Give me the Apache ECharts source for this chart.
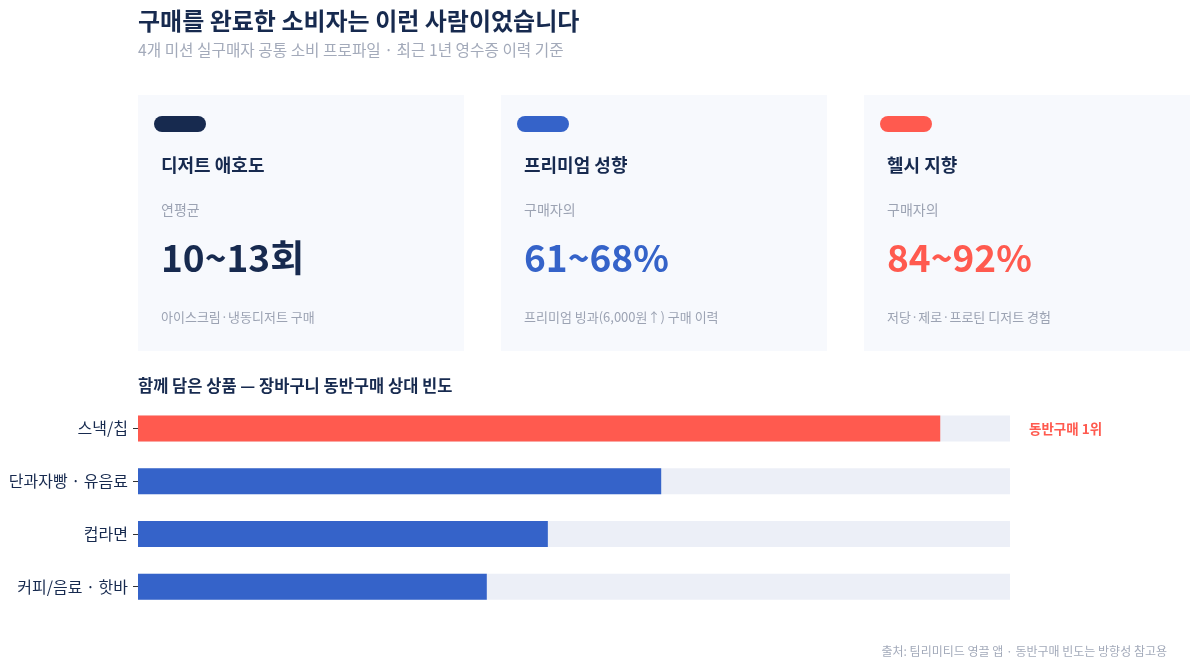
<!DOCTYPE html>
<html>
<head>
<meta charset="utf-8">
<script src="https://cdn.jsdelivr.net/npm/echarts@6/dist/echarts.min.js"></script>
<style>
  html, body { margin: 0; padding: 0; background: #ffffff; }
  #main { width: 1200px; height: 668px; }
</style>
</head>
<body>
<div id="main"></div>
<script>
var FONT = '"Noto Sans CJK KR", "Noto Sans", sans-serif';

// headline texts
var titleText = '구매를 완료한 소비자는 이런 사람이었습니다';
var subtitleText = '4개 미션 실구매자 공통 소비 프로파일 · 최근 1년 영수증 이력 기준';
var sectionText = '함께 담은 상품 — 장바구니 동반구매 상대 빈도';
var sourceText = '출처: 팀리미티드 영끌 앱 · 동반구매 빈도는 방향성 참고용';

// profile cards
var cardTitles = ['디저트 애호도', '프리미엄 성향', '헬시 지향'];
var cardLabels = ['연평균', '구매자의', '구매자의'];
var cardValues = ['10~13회', '61~68%', '84~92%'];
var cardNotes = ['아이스크림·냉동디저트 구매', '프리미엄 빙과(6,000원↑) 구매 이력', '저당·제로·프로틴 디저트 경험'];

// basket co-purchase bars
var categories = ['스낵/칩', '단과자빵 · 유음료', '컵라면', '커피/음료 · 핫바'];
var relFreq = [92, 60, 47, 40];
var topNote = '동반구매 1위';

var NAVY = '#172a4f';
var BLUE = '#3563c9';
var RED = '#ff5a4f';
var GREY = '#9ca3b3';
var cardColors = [NAVY, BLUE, RED];

var chart = echarts.init(document.getElementById('main'));

var graphics = [
    { type: 'text', x: 138, y: 21, style: { text: titleText, fill: NAVY, font: 'bold 24px ' + FONT, verticalAlign: 'middle' } },
    { type: 'text', x: 138, y: 50, style: { text: subtitleText, fill: '#a3aaba', font: '15.7px ' + FONT, verticalAlign: 'middle' } },
    { type: 'text', x: 138, y: 386, style: { text: sectionText, fill: NAVY, font: 'bold 16.5px ' + FONT, verticalAlign: 'middle' } },
    { type: 'text', x: 1167, y: 651, style: { text: sourceText, fill: '#a3aaba', font: '12px ' + FONT, align: 'right', verticalAlign: 'middle' } }
];

var cardX = [138, 501, 864];
cardTitles.forEach(function (t, i) {
    var x = cardX[i];
    graphics.push({ type: 'rect', shape: { x: x, y: 95, width: 326, height: 256 }, style: { fill: '#f7f9fd' } });
    graphics.push({ type: 'rect', shape: { x: x + 16, y: 116, width: 52, height: 16, r: 8 }, style: { fill: cardColors[i] } });
    graphics.push({ type: 'text', x: x + 23, y: 165, style: { text: t, fill: NAVY, font: 'bold 18px ' + FONT, verticalAlign: 'middle' } });
    graphics.push({ type: 'text', x: x + 23, y: 210, style: { text: cardLabels[i], fill: GREY, font: '14px ' + FONT, verticalAlign: 'middle' } });
    graphics.push({ type: 'text', x: x + 23, y: 258, style: { text: cardValues[i], fill: cardColors[i], font: 'bold 37px ' + FONT, verticalAlign: 'middle' } });
    graphics.push({ type: 'text', x: x + 23, y: 317, style: { text: cardNotes[i], fill: GREY, font: '13px ' + FONT, verticalAlign: 'middle' } });
});

var option = {
    backgroundColor: '#ffffff',
    animation: false,
    textStyle: { fontFamily: FONT },
    grid: { left: 138, right: 190, top: 402, height: 211, containLabel: false },
    xAxis: {
        type: 'value',
        min: 0,
        max: 100,
        show: false
    },
    yAxis: {
        type: 'category',
        inverse: true,
        data: categories,
        axisLine: { show: false },
        axisTick: { show: true, alignWithLabel: true, length: 5, lineStyle: { color: '#333' } },
        axisLabel: { color: NAVY, fontSize: 16, margin: 10, fontFamily: FONT }
    },
    series: [{
        type: 'bar',
        barWidth: 26,
        showBackground: true,
        backgroundStyle: { color: '#eceff7' },
        data: relFreq.map(function (v, i) {
            return { value: v, itemStyle: { color: i === 0 ? RED : BLUE } };
        })
    }],
    graphic: graphics
};

chart.setOption(option);

var p = chart.convertToPixel({ gridIndex: 0 }, [100, categories[0]]);
graphics.push({
    type: 'text', x: p[0] + 19, y: p[1],
    style: { text: topNote, fill: RED, font: 'bold 13.5px ' + FONT, verticalAlign: 'middle' }
});
chart.setOption({ graphic: graphics });
</script>
</body>
</html>
